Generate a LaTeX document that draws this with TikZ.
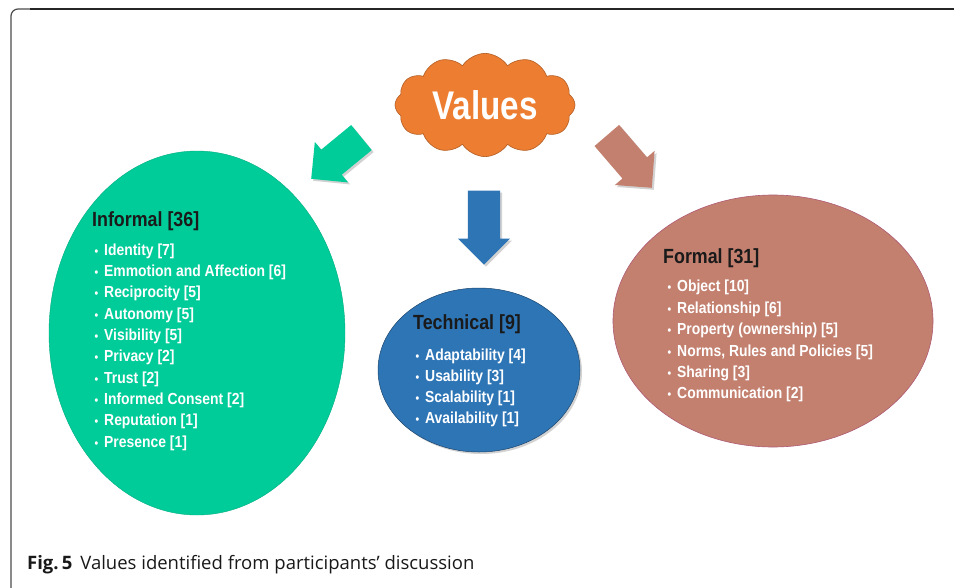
\documentclass[tikz,border=0pt]{standalone}
\usepackage{fontspec}
\setmainfont{Liberation Sans}
\newfontfamily\narrowfont[FakeStretch=0.87]{Liberation Sans}
\newfontfamily\valfont[FakeStretch=0.83]{Liberation Sans}
\newfontfamily\capfont{Open Sans}
\usetikzlibrary{shapes.geometric,shapes.symbols,shapes.arrows,shadows}
\definecolor{infgreen}{HTML}{00CC99}
\definecolor{techblue}{HTML}{2E75B6}
\definecolor{formbrown}{HTML}{C3806F}
\definecolor{cloudorange}{HTML}{ED7D31}
\definecolor{titleblack}{HTML}{1A1A1A}
\newcommand{\bul}{\llap{{\fontsize{12}{12}\selectfont\textbullet}\hspace{6pt}}}
\begin{document}
\begin{tikzpicture}[x=1pt,y=-1pt,
  blob/.style={ellipse, inner sep=0pt},
  shade/.style={drop shadow={opacity=0.35, shadow xshift=2pt, shadow yshift=-2pt}},
  blockarrow/.style={single arrow, single arrow tip angle=90, single arrow head extend=10pt,
     inner xsep=0pt, inner ysep=16pt, anchor=tip, shade},
  ttl/.style={anchor=base west, inner sep=0pt, text=titleblack,
     font=\narrowfont\bfseries\fontsize{20.5}{24}\selectfont},
  itm/.style={anchor=base west, inner sep=0pt, text=white,
     font=\narrowfont\bfseries\fontsize{16}{19}\selectfont},
]
\useasboundingbox (0,0) rectangle (954,587);
\fill[white] (0,0) rectangle (954,587);
% frame
\draw[draw=black!70, line width=1.2pt, rounded corners=7pt] (11,590) -- (11,9) -- (960,9);
\draw[draw=black!85, line width=1.8pt] (30,9) -- (960,9);

% cloud
\node[cloud, cloud puffs=12, cloud puff arc=115, aspect=1.75, minimum width=180pt, minimum height=90pt,
  inner sep=0pt, fill=cloudorange, draw=cloudorange!75!black, line width=0.6pt,
  text=white, font=\valfont\bfseries\fontsize{40}{44}\selectfont] (values) at (485,105) {Values};

% arrows
\node[blockarrow, fill=infgreen, rotate=219.4, minimum height=65pt] (arrinf) at (311,179) {};
\node[blockarrow, fill=techblue, rotate=-90, minimum height=74pt] (arrtech) at (484,265) {};
\node[blockarrow, fill=formbrown, rotate=-49.3, minimum height=69pt] (arrform) at (652,188) {};

% ellipses
\node[blob, fill=infgreen, draw=infgreen!85!black, line width=0.4pt, minimum width=296pt, minimum height=364pt] (inf) at (197,333) {};
\node[blob, fill=techblue, draw=techblue!60!black, line width=0.5pt, minimum width=202pt, minimum height=164pt, shade] (tech) at (479,370) {};
\node[blob, fill=formbrown, draw=formbrown!70!violet, line width=0.6pt, minimum width=320pt, minimum height=252pt] (form) at (773,321) {};

% informal
\node[ttl] (inftitle) at (92,226) {Informal [36]};
\foreach \t [count=\i] in {Identity [7], Emmotion and Affection [6], Reciprocity [5], Autonomy [5],
  Visibility [5], Privacy [2], Trust [2], Informed Consent [2], Reputation [1], Presence [1]}
  \node[itm] (infitem\i) at (104,{255.3+21.3*(\i-1)}) {\bul\t};

% technical
\node[ttl] (techtitle) at (413,329.3) {Technical [9]};
\foreach \t [count=\i] in {Adaptability [4], Usability [3], Scalability [1], Availability [1]}
  \node[itm] (techitem\i) at (425,{360+21.1*(\i-1)}) {\bul\t};

% formal
\node[ttl] (formtitle) at (663,263.3) {Formal [31]};
\foreach \t [count=\i] in {Object [10], Relationship [6], Property (ownership) [5],
  {Norms, Rules and Policies [5]}, Sharing [3], Communication [2]}
  \node[itm] (formitem\i) at (677,{291.7+21.45*(\i-1)}) {\bul\t};

% caption
\node[anchor=base west, inner sep=0pt, font=\capfont\fontsize{18.5}{21}\selectfont, text=black!90] (caption)
  at (27,569) {\textbf{Fig.\,5}\hspace{8pt}Values identified from participants’ discussion};
\end{tikzpicture}
\end{document}
